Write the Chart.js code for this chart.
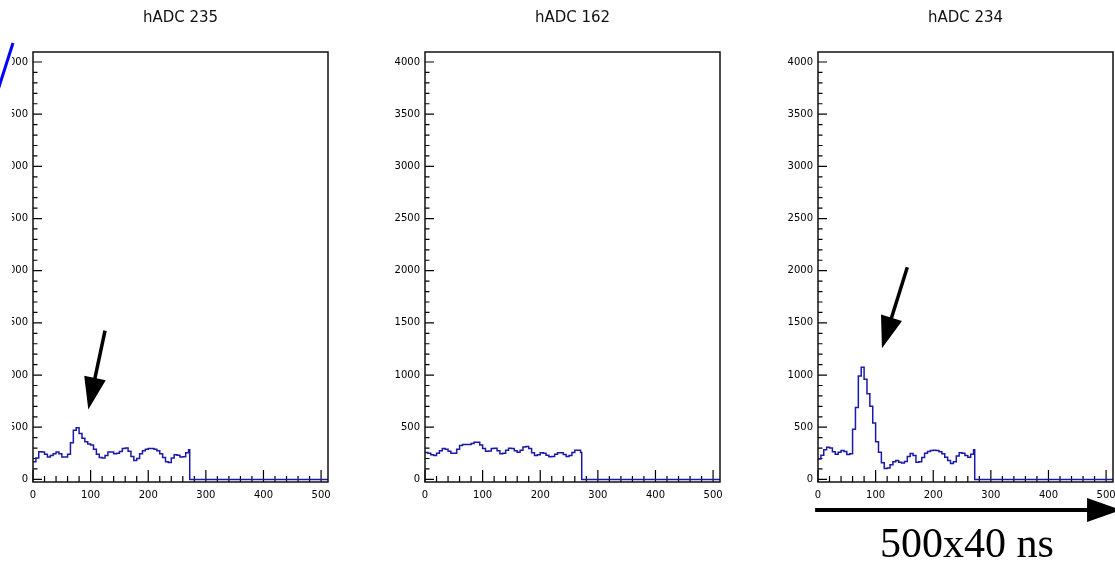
<!DOCTYPE html>
<html>
<head>
<meta charset="utf-8">
<title>hADC</title>
<script src="https://cdn.jsdelivr.net/npm/chart.js@4.4.1/dist/chart.umd.min.js"></script>
<style>
  html, body { margin: 0; padding: 0; background: #fff; }
  body { width: 1115px; height: 562px; position: relative; overflow: hidden; }
  .clip { position: absolute; top: 0; height: 562px; overflow: hidden; }
  .clip canvas { position: absolute; top: 0; }
  #slash { position: absolute; left: 0; top: 0; }
  #note {
    position: absolute; left: 880px; top: 522px;
    font-family: "Liberation Serif", serif; font-size: 42px; line-height: 42px;
    color: #000; white-space: nowrap;
  }
</style>
</head>
<body>
<div class="clip" style="left:12px;width:360px"><canvas id="c235" width="415" height="530" style="left:-39px"></canvas></div>
<div class="clip" style="left:365px;width:415px"><canvas id="c162" width="415" height="530" style="left:0"></canvas></div>
<div class="clip" style="left:758px;width:357px"><canvas id="c234" width="415" height="530" style="left:0"></canvas></div>
<svg id="slash" width="20" height="100"><line x1="13" y1="43" x2="-2" y2="90" stroke="#0000ff" stroke-width="3"/></svg>
<div id="note">500x40 ns</div>

<script>
// bin positions (ADC sample number); the signal stops at 272, then flat 0 up to 512
var bins = [0, 5, 10, 15, 20, 25, 30, 35, 40, 45, 50, 55, 60, 65, 70, 75, 80, 85, 90, 95,
            100, 105, 110, 115, 120, 125, 130, 135, 140, 145, 150, 155, 160, 165, 170, 175, 180, 185, 190, 195,
            200, 205, 210, 215, 220, 225, 230, 235, 240, 245, 250, 255, 260, 265, 270, 272, 512];

var adc235 = [170, 205, 265, 262, 240, 215, 230, 245, 262, 245, 215, 215, 240, 350, 470, 495, 440, 395, 360, 340,
              330, 290, 240, 210, 205, 230, 262, 262, 245, 250, 268, 295, 302, 270, 220, 182, 200, 245, 275, 288,
              295, 297, 290, 275, 245, 210, 170, 162, 205, 235, 232, 215, 218, 255, 285, 0, 0];

var adc162 = [258, 250, 235, 230, 250, 275, 296, 290, 270, 250, 250, 290, 325, 335, 335, 335, 345, 355, 355, 330,
              295, 270, 272, 295, 298, 275, 245, 250, 280, 298, 295, 275, 260, 280, 310, 315, 295, 255, 230, 235,
              255, 250, 232, 218, 220, 240, 256, 255, 238, 220, 228, 258, 280, 280, 258, 0, 0];

var adc234 = [195, 232, 285, 308, 300, 265, 242, 260, 278, 268, 238, 245, 480, 690, 990, 1075, 960, 820, 700, 540,
              360, 260, 160, 105, 108, 140, 170, 180, 165, 158, 172, 220, 248, 230, 165, 168, 210, 250, 268, 276,
              280, 276, 265, 245, 212, 182, 152, 168, 225, 255, 250, 228, 212, 240, 285, 0, 0];

var xTicks = [0, 100, 200, 300, 400, 500];
var yTicks = [0, 500, 1000, 1500, 2000, 2500, 3000, 3500, 4000];

var lineColor = '#1a1aa8';

function drawArrow(ctx, x0, y0, x1, y1, w, headLen, headW) {
    var dx = x1 - x0, dy = y1 - y0;
    var len = Math.sqrt(dx * dx + dy * dy);
    var ux = dx / len, uy = dy / len;
    var bx = x1 - ux * headLen, by = y1 - uy * headLen;
    ctx.beginPath();
    ctx.lineWidth = w;
    ctx.moveTo(x0, y0);
    ctx.lineTo(bx + ux, by + uy);
    ctx.stroke();
    ctx.beginPath();
    ctx.moveTo(x1, y1);
    ctx.lineTo(bx - uy * headW / 2, by + ux * headW / 2);
    ctx.lineTo(bx + uy * headW / 2, by - ux * headW / 2);
    ctx.closePath();
    ctx.fill();
}

// ROOT-like frame with inward ticks, plus annotation arrows
var rootAxes = {
    id: 'rootAxes',
    beforeDatasetsDraw: function (chart) {
        var ctx = chart.ctx, a = chart.chartArea;
        var x = chart.scales.x, y = chart.scales.y;
        ctx.save();
        ctx.strokeStyle = '#000';
        ctx.lineWidth = 1.2;
        ctx.beginPath();
        for (var v = 0; v <= 500; v += 20) {
            var px = x.getPixelForValue(v);
            var l = (v % 100 === 0) ? 12 : 6;
            ctx.moveTo(px, a.bottom);
            ctx.lineTo(px, a.bottom - l);
        }
        for (var u = 0; u <= 4000; u += 100) {
            var py = y.getPixelForValue(u);
            var m = (u % 500 === 0) ? 9 : 4.5;
            ctx.moveTo(a.left, py);
            ctx.lineTo(a.left + m, py);
        }
        ctx.stroke();
        ctx.restore();
    },
    afterDraw: function (chart, args, opts) {
        var ctx = chart.ctx, a = chart.chartArea;
        var x = chart.scales.x, y = chart.scales.y;
        ctx.save();
        ctx.strokeStyle = '#111';
        ctx.lineWidth = 1.5;
        ctx.strokeRect(a.left, a.top, a.right - a.left, a.bottom - a.top);
        ctx.strokeStyle = '#000';
        ctx.fillStyle = '#000';
        (opts.arrows || []).forEach(function (ar) {
            drawArrow(ctx,
                x.getPixelForValue(ar.from[0]), y.getPixelForValue(ar.from[1]),
                x.getPixelForValue(ar.to[0]), y.getPixelForValue(ar.to[1]),
                ar.width, ar.head, ar.headWidth);
        });
        ctx.restore();
    }
};

function makeHist(id, title, values, arrows) {
    var pts = [];
    for (var i = 0; i < bins.length; i++) {
        pts.push({x: bins[i], y: values[i]});
    }
    var tickFont = {family: 'DejaVu Sans', size: 10};
    return new Chart(document.getElementById(id), {
        type: 'line',
        data: {
            datasets: [{
                data: pts,
                stepped: true,
                borderColor: lineColor,
                borderWidth: 1.5,
                pointRadius: 0,
                fill: false
            }]
        },
        options: {
            responsive: false,
            animation: false,
            layout: {padding: {left: 0, right: 60, top: 0, bottom: 28}},
            plugins: {
                legend: {display: false},
                tooltip: {enabled: false},
                title: {
                    display: true,
                    text: title,
                    fullSize: false,
                    color: '#111',
                    font: {family: 'DejaVu Sans', size: 15, weight: 'normal'},
                    padding: {top: 9, bottom: 25}
                },
                rootAxes: {arrows: arrows}
            },
            scales: {
                x: {
                    type: 'linear',
                    min: 0,
                    max: 512,
                    afterBuildTicks: function (s) { s.ticks = xTicks.map(function (v) { return {value: v}; }); },
                    afterFit: function (s) { s.height = 20; },
                    grid: {display: false, drawTicks: false},
                    border: {display: false},
                    ticks: {
                        color: '#000', font: tickFont, padding: 7,
                        maxRotation: 0, autoSkip: false,
                        callback: function (v) { return String(v); }
                    }
                },
                y: {
                    type: 'linear',
                    min: -25,
                    max: 4096,
                    afterBuildTicks: function (s) { s.ticks = yTicks.map(function (v) { return {value: v}; }); },
                    afterFit: function (s) { s.width = 60; },
                    grid: {display: false, drawTicks: false},
                    border: {display: false},
                    ticks: {
                        color: '#000', font: tickFont, padding: 5,
                        autoSkip: false,
                        callback: function (v) { return String(v); }
                    }
                }
            }
        },
        plugins: [rootAxes]
    });
}

makeHist('c235', 'hADC 235', adc235, [
    {from: [125, 1425], to: [96, 671], width: 3.5, head: 32, headWidth: 22}
]);
makeHist('c162', 'hADC 162', adc162, []);
makeHist('c234', 'hADC 234', adc234, [
    {from: [155, 2033], to: [111, 1256], width: 3.5, head: 32, headWidth: 22},
    {from: [-5, -294], to: [526, -294], width: 4, head: 34, headWidth: 24}
]);
</script>
</body>
</html>
